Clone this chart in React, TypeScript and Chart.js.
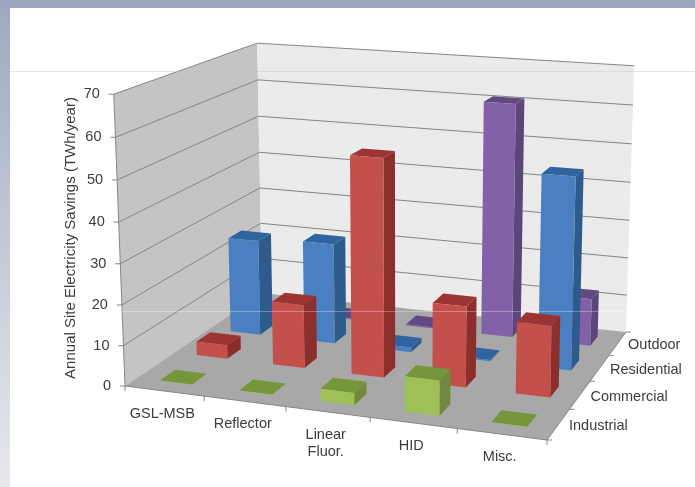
import { useEffect, useRef } from 'react';
import { Chart, registerables, BarController } from 'chart.js';

Chart.register(...registerables);

// Chart content
const lampCategories = ['GSL-MSB', 'Reflector', ['Linear', 'Fluor.'], 'HID', 'Misc.'];
const sectors = ['Industrial', 'Commercial', 'Residential', 'Outdoor'];
const industrial = [0.1, 0.1, 3, 8.5, 0.1];
const commercial = [3.5, 16, 54, 20, 17.5];
const residential = [25, 26, 1.2, 0.3, 48.5];
const outdoor = [null, 0.3, 0.3, 61, 12.3];
const valueAxisTitle = 'Annual Site Electricity Savings (TWh/year)';

// Face colours of each sector's boxes: front, side, top
const sectorFaces = [
  ['#9fc056', '#71893f', '#76963c'],
  ['#c4504c', '#8b2e2c', '#9b3533'],
  ['#4a80c2', '#2f5a8c', '#2f649e'],
  ['#8361a8', '#5c4578', '#63497f'],
];

const TEXT = '#3c3c3c';
const FONT = '"Liberation Sans", Arial, sans-serif';
const BOX_WIDTH = 0.405; // share of a category slot
const BOX_DEPTH = 0.4; // share of a sector slot

// Corners of the 3D plot box on the canvas
const FLOOR_FRONT_LEFT = [125, 386];
const FLOOR_FRONT_RIGHT = [547, 440];
const FLOOR_BACK_RIGHT = [626, 332];
const FLOOR_BACK_LEFT = [262, 293];
const TOP_FRONT_LEFT = [113, 93];
const TOP_BACK_LEFT = [258, 44];
const TOP_BACK_RIGHT = [634, 66];

function solve3(A: number[][], b: number[]) {
  const m = A.map((row, i) => [...row, b[i]]);
  for (let i = 0; i < 3; i++) {
    let p = i;
    for (let r = i + 1; r < 3; r++) if (Math.abs(m[r][i]) > Math.abs(m[p][i])) p = r;
    [m[i], m[p]] = [m[p], m[i]];
    for (let r = 0; r < 3; r++) {
      if (r === i) continue;
      const f = m[r][i] / m[i][i];
      for (let c = i; c < 4; c++) m[r][c] -= f * m[i][c];
    }
  }
  return [m[0][3] / m[0][0], m[1][3] / m[1][1], m[2][3] / m[2][2]];
}

// Builds a perspective projection from unit-cube coordinates (x, value, depth)
function buildProjection() {
  const [x0, y0] = FLOOR_FRONT_LEFT;
  const [x1, y1] = FLOOR_FRONT_RIGHT;
  const [x2, y2] = FLOOR_BACK_RIGHT;
  const [x3, y3] = FLOOR_BACK_LEFT;
  const dx1 = x1 - x2, dx2 = x3 - x2, sx = x0 - x1 + x2 - x3;
  const dy1 = y1 - y2, dy2 = y3 - y2, sy = y0 - y1 + y2 - y3;
  const det = dx1 * dy2 - dx2 * dy1;
  const g = (sx * dy2 - dx2 * sy) / det;
  const h = (dx1 * sy - sx * dy1) / det;
  const cx = [x1 - x0 + g * x1, y1 - y0 + g * y1, g];
  const cz = [x3 - x0 + h * x3, y3 - y0 + h * y3, h];
  const c0 = [x0, y0, 1];

  const refs: [number, number, number[]][] = [
    [0, 0, TOP_FRONT_LEFT],
    [0, 1, TOP_BACK_LEFT],
    [1, 1, TOP_BACK_RIGHT],
  ];
  const rows: number[][] = [];
  const rhs: number[] = [];
  refs.forEach(([fx, fz, [U, V]]) => {
    const H = [0, 1, 2].map((k) => cx[k] * fx + cz[k] * fz + c0[k]);
    rows.push([1, 0, -U]);
    rhs.push(U * H[2] - H[0]);
    rows.push([0, 1, -V]);
    rhs.push(V * H[2] - H[1]);
  });
  const AtA = [0, 1, 2].map((i) => [0, 1, 2].map((j) => rows.reduce((s, r) => s + r[i] * r[j], 0)));
  const Atb = [0, 1, 2].map((i) => rows.reduce((s, r, k) => s + r[i] * rhs[k], 0));
  const cy = solve3(AtA, Atb);

  return (x: number, v: number, z: number): [number, number] => {
    const u = cx[0] * x + cy[0] * v + cz[0] * z + c0[0];
    const w = cx[1] * x + cy[1] * v + cz[1] * z + c0[1];
    const t = cx[2] * x + cy[2] * v + cz[2] * z + c0[2];
    return [u / t, w / t];
  };
}

const project = buildProjection();

function fraction(scale: any, value: number) {
  return scale.getDecimalForPixel(scale.getPixelForValue(value));
}

function face(ctx: CanvasRenderingContext2D, pts: [number, number][], fill: string) {
  ctx.beginPath();
  pts.forEach(([a, b], i) => (i ? ctx.lineTo(a, b) : ctx.moveTo(a, b)));
  ctx.closePath();
  ctx.fillStyle = fill;
  ctx.fill();
}

function segment(ctx: CanvasRenderingContext2D, a: [number, number], b: [number, number]) {
  ctx.beginPath();
  ctx.moveTo(a[0], a[1]);
  ctx.lineTo(b[0], b[1]);
  ctx.stroke();
}

// Bar controller that renders each value as a projected box
class Box3DController extends BarController {
  static id = 'box3d';

  draw() {
    const chart = this.chart as any;
    const ctx = chart.ctx as CanvasRenderingContext2D;
    const meta = this.getMeta();
    const { x: xScale, y: yScale, depth } = chart.scales;
    const colors = (this.getDataset() as any).faces as string[];
    const sector = fraction(depth, this.index);
    const halfZ = (BOX_DEPTH / sectors.length) / 2;
    const halfX = (BOX_WIDTH / lampCategories.length) / 2;
    ctx.save();
    meta.data.forEach((_el: any, i: number) => {
      const parsed: any = this.getParsed(i);
      if (parsed == null || parsed.y == null || Number.isNaN(parsed.y)) return;
      const xc = fraction(xScale, parsed.x);
      const v = fraction(yScale, parsed.y);
      const x0 = xc - halfX, x1 = xc + halfX, z0 = sector - halfZ, z1 = sector + halfZ;
      face(ctx, [project(x1, 0, z0), project(x1, 0, z1), project(x1, v, z1), project(x1, v, z0)], colors[1]);
      face(ctx, [project(x0, v, z0), project(x1, v, z0), project(x1, v, z1), project(x0, v, z1)], colors[2]);
      face(ctx, [project(x0, 0, z0), project(x1, 0, z0), project(x1, v, z0), project(x0, v, z0)], colors[0]);
    });
    ctx.restore();
  }
}
Chart.register(Box3DController);

// Slide backdrop behind the chart
const backdrop = {
  id: 'backdrop',
  beforeDraw(chart: any) {
    const { ctx, width, height } = chart;
    ctx.save();
    ctx.fillStyle = '#ffffff';
    ctx.fillRect(0, 0, width, height);
    const grad = ctx.createLinearGradient(0, 0, 0, height);
    grad.addColorStop(0, '#9da8c0');
    grad.addColorStop(0.5, '#c3cad6');
    grad.addColorStop(1, '#e6e8eb');
    ctx.fillStyle = grad;
    ctx.fillRect(0, 0, 10, height);
    ctx.fillStyle = '#9da8c0';
    ctx.fillRect(0, 0, width, 8);
    ctx.restore();
  },
};

// Walls, floor and grid of the plot box
const plotBox = {
  id: 'plotBox',
  beforeDatasetsDraw(chart: any) {
    const { ctx } = chart;
    const yScale = chart.scales.y;
    ctx.save();
    face(ctx, [project(0, 0, 0), project(0, 0, 1), project(0, 1, 1), project(0, 1, 0)], '#c4c4c4');
    face(ctx, [project(0, 0, 1), project(1, 0, 1), project(1, 1, 1), project(0, 1, 1)], '#ebebeb');
    face(ctx, [project(0, 0, 0), project(1, 0, 0), project(1, 0, 1), project(0, 0, 1)], '#a8a8a8');
    ctx.strokeStyle = '#858585';
    ctx.lineWidth = 1;
    yScale.ticks.forEach((t: any) => {
      if (t.value === 0) return;
      const v = fraction(yScale, t.value);
      segment(ctx, project(0, v, 0), project(0, v, 1));
      segment(ctx, project(0, v, 1), project(1, v, 1));
    });
    ctx.restore();
  },
};

// Axis lines, tick marks and every axis label
const axisText = {
  id: 'axisText',
  afterDraw(chart: any) {
    const { ctx } = chart;
    const { x: xScale, y: yScale, depth } = chart.scales;
    ctx.save();
    ctx.strokeStyle = '#868686';
    ctx.lineWidth = 1;
    ctx.fillStyle = TEXT;
    ctx.font = `14.5px ${FONT}`;
    segment(ctx, project(0, 0, 0), project(0, 1, 0));
    segment(ctx, project(0, 0, 0), project(1, 0, 0));
    segment(ctx, project(1, 0, 0), project(1, 0, 1));

    ctx.textAlign = 'right';
    ctx.textBaseline = 'middle';
    yScale.ticks.forEach((t: any) => {
      const [px, py] = project(0, fraction(yScale, t.value), 0);
      segment(ctx, [px - 5, py], [px, py]);
      ctx.fillText(String(t.value), px - 14, py);
    });

    ctx.textAlign = 'center';
    const slots = lampCategories.length;
    for (let i = 0; i <= slots; i++) {
      const [px, py] = project(i / slots, 0, 0);
      segment(ctx, [px, py], [px, py + 5]);
    }
    lampCategories.forEach((label, i) => {
      const [px, py] = project(fraction(xScale, i), 0, 0);
      const lines = Array.isArray(label) ? label : [label];
      lines.forEach((line, k) => ctx.fillText(line, px - 2, py + 23 + k * 17));
    });

    ctx.textAlign = 'left';
    for (let i = 0; i <= sectors.length; i++) {
      const [px, py] = project(1, 0, i / sectors.length);
      segment(ctx, [px, py], [px + 5, py]);
    }
    sectors.forEach((label, i) => {
      const [px, py] = project(1, 0, fraction(depth, i));
      ctx.fillText(label, px + 10.5, py + 1.5);
    });

    ctx.translate(71, 238);
    ctx.rotate(-Math.PI / 2);
    ctx.textAlign = 'center';
    ctx.font = `15px ${FONT}`;
    ctx.fillText(valueAxisTitle, 0, 0);
    ctx.restore();

    // Faint scan rules that cross the slide
    ctx.save();
    ctx.fillStyle = 'rgba(190,190,190,0.35)';
    ctx.fillRect(10, 71, chart.width - 10, 1);
    ctx.fillStyle = 'rgba(255,255,255,0.3)';
    ctx.fillRect(10, 311, chart.width - 10, 1);
    ctx.restore();
  },
};

export default function App() {
  const canvasRef = useRef<HTMLCanvasElement | null>(null);

  useEffect(() => {
    const series = [industrial, commercial, residential, outdoor];
    const chart = new Chart(canvasRef.current as HTMLCanvasElement, {
      type: 'box3d' as any,
      data: {
        labels: lampCategories as any,
        datasets: series.map((data, i) => ({
          label: sectors[i],
          data,
          faces: sectorFaces[i],
        })) as any,
      },
      options: {
        responsive: false,
        animation: false,
        scales: {
          x: { type: 'category', offset: true, display: false },
          y: { type: 'linear', min: 0, max: 70, ticks: { stepSize: 10 }, display: false },
          depth: { type: 'category', axis: 'y', labels: sectors, offset: true, display: false },
        },
        plugins: { legend: { display: false }, tooltip: { enabled: false } },
      } as any,
      plugins: [backdrop, plotBox, axisText],
    });
    return () => chart.destroy();
  }, []);

  return (
    <div style={{ position: 'fixed', left: 0, top: 0, width: 695, height: 487 }}>
      <canvas ref={canvasRef} width={695} height={487} style={{ display: 'block' }} />
    </div>
  );
}
